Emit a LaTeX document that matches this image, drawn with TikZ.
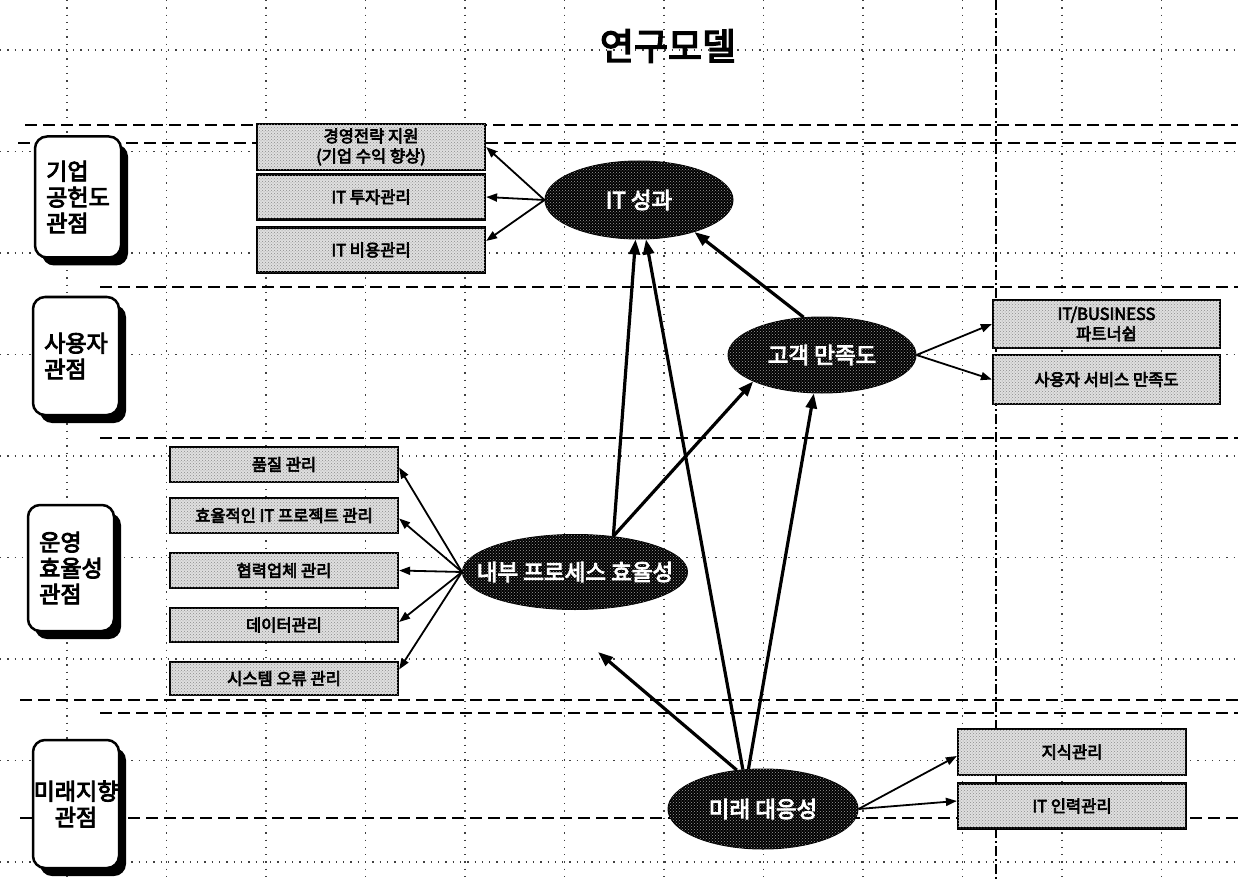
\documentclass[tikz,border=0pt]{standalone}
\usepackage{fontspec}
\setmainfont{Noto Sans CJK KR}[AutoFakeBold=4]
\usetikzlibrary{arrows.meta,shapes.geometric,shadows,patterns,calc}
\begin{document}
\begin{tikzpicture}[x=1pt,y=-1pt,
  gridln/.style={line width=1.3pt, dash pattern=on 1.3pt off 6pt, black!75},
  sepln/.style={line width=2.2pt, dash pattern=on 12pt off 6pt},
  persp/.style={draw, line width=2.5pt, rounded corners=12pt, fill=white, inner sep=0pt,
    font=\bfseries\fontsize{23}{26}\selectfont, align=left,
    drop shadow={shadow xshift=7pt, shadow yshift=-8pt, opacity=1, fill=black}},
  perspt/.style={font=\bfseries\fontsize{23}{26}\selectfont, align=center, inner sep=0pt},
  gbox/.style={draw, line width=2.2pt, fill=gray!25,
    postaction={pattern=crosshatch dots, pattern color=black!45},
    minimum width=228pt, inner sep=1pt, align=center,
    font=\bfseries\fontsize{16.5}{20}\selectfont},
  ell/.style={ellipse, draw, line width=1pt, fill=black,
    postaction={pattern=crosshatch dots, pattern color=gray!75}, inner sep=0pt},
  ellt/.style={text=white, font=\bfseries\fontsize{22.5}{24}\selectfont, inner sep=0pt},
  arr/.style={line width=3.2pt, -{Triangle[length=15pt,width=11pt]}},
  sarr/.style={line width=1.8pt, -{Triangle[length=11pt,width=8pt]}}]
\useasboundingbox (0,0) rectangle (1238,882);
\fill[white] (0,0) rectangle (1238,882);
% grid
\foreach \x in {67,166.5,266,365.5,465,564.5,664,763.5,863,962.5,1062,1161.5}
  \draw[gridln] (\x,0) -- (\x,882);
\foreach \y in {50,151.5,253,354.5,456,557.5,659,760.5,862}
  \draw[gridln] (0,\y) -- (1238,\y);
\draw[line width=1.3pt, dash pattern=on 10pt off 3pt on 2pt off 3pt] (996,0) -- (996,882);
% separators
\draw[sepln] (25,125) -- (1238,125);
\draw[sepln] (18,143) -- (1238,143);
\draw[sepln] (100,287) -- (1238,287);
\draw[sepln] (100,438) -- (1238,438);
\draw[sepln, line width=1.6pt] (20,700) -- (1238,700);
\draw[sepln] (100,713) -- (1238,713);
\draw[sepln] (20,818) -- (1238,818);
% title
\node[font=\bfseries\fontsize{37}{40}\selectfont] (title) at (668,46) {연구모델};
% perspectives
\node[persp, minimum width=86pt, minimum height=121pt] (p1) at (78,197) {기업\\공헌도\\관점};
\node[persp, minimum width=86pt, minimum height=118pt] (p2) at (76,356) {사용자\\관점};
\node[persp, minimum width=86pt, minimum height=126pt] (p3) at (71,568) {운영\\효율성\\관점};
\node[persp, minimum width=86pt, minimum height=128pt, label={[perspt]center:미래지향\\관점}] (p4) at (76,804) {};
% top boxes
\node[gbox, minimum height=46pt] (ta) at (371,147) {경영전략 지원\\(기업 수익 향상)};
\node[gbox, minimum height=45pt] (tb) at (371,197) {IT 투자관리};
\node[gbox, minimum height=45pt] (tc) at (371,250) {IT 비용관리};
% right boxes
\node[gbox, minimum width=227pt, minimum height=48pt] (ra) at (1106.5,324) {IT/BUSINESS\\파트너쉽};
\node[gbox, minimum width=227pt, minimum height=49pt] (rb) at (1106.5,379.5) {사용자 서비스 만족도};
% left boxes
\node[gbox, minimum height=35pt] (l1) at (284,464.5) {품질 관리};
\node[gbox, minimum height=35pt] (l2) at (284,515.5) {효율적인 IT 프로젝트 관리};
\node[gbox, minimum height=35pt] (l3) at (284,570.5) {협력업체 관리};
\node[gbox, minimum height=34pt] (l4) at (284,625) {데이터관리};
\node[gbox, minimum height=33pt] (l5) at (284,678.5) {시스템 오류 관리};
% bottom boxes
\node[gbox, minimum height=46pt] (ba) at (1072,752) {지식관리};
\node[gbox, minimum height=45pt] (bb) at (1072,806) {IT 인력관리};
% ellipses
\node[ell, minimum width=188pt, minimum height=78pt, label={[ellt]center:IT 성과}] (itp) at (639,200) {};
\node[ell, minimum width=188pt, minimum height=76pt, label={[ellt]center:고객 만족도}] (cs) at (822,355) {};
\node[ell, minimum width=225pt, minimum height=75pt, label={[ellt]center:내부 프로세스 효율성}] (ipe) at (575,572) {};
\node[ell, minimum width=190pt, minimum height=80pt, label={[ellt]center:미래 대응성}] (fu) at (763,809) {};
\coordinate (inTip) at (598,652);
% small arrows
\draw[sarr] (itp.west) -- (ta.east);
\draw[sarr] (itp.west) -- (tb.east);
\draw[sarr] (itp.west) -- ([yshift=9pt]tc.east);
\draw[sarr] (cs.east) -- (ra.west);
\draw[sarr] (cs.east) -- (rb.west);
\draw[sarr] (ipe.west) -- ([yshift=-3pt]l1.east);
\draw[sarr] (ipe.west) -- ([yshift=-3pt]l2.east);
\draw[sarr] (ipe.west) -- (l3.east);
\draw[sarr] (ipe.west) -- ([yshift=3pt]l4.east);
\draw[sarr] (ipe.west) -- ([yshift=9pt]l5.east);
\draw[sarr] (fu.east) -- ([yshift=-4pt]ba.west);
\draw[sarr] (fu.east) -- ([yshift=5pt]bb.west);
% main arrows
\draw[arr] (cs.116) -- (itp.-30);
\draw[arr] (ipe.43) -- (itp.265);
\draw[arr] (ipe.43) -- (cs.201);
\draw[arr] (fu.124) -- (inTip);
\draw[arr] (fu.117) -- (itp.280);
\draw[arr] (fu.110) -- (cs.258);
\end{tikzpicture}
\end{document}
